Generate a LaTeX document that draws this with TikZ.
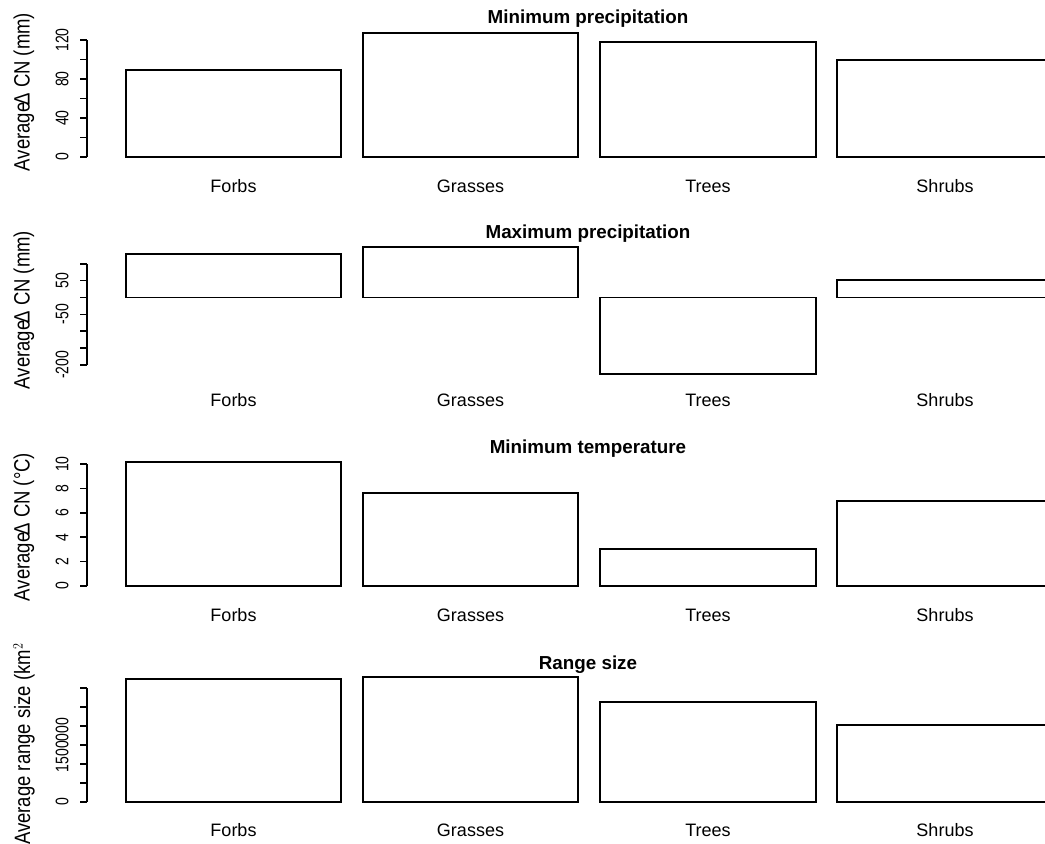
\documentclass[tikz,border=0pt]{standalone}
\usepackage{fontspec}
\setmainfont{Liberation Sans}
\usepackage{tikz}
\newcommand{\tallnum}[1]{\scalebox{1}[1.3]{#1}}
\newcommand{\talltext}[1]{\scalebox{1}[1.2]{#1}}
\tikzstyle{every node}=[inner sep=0pt,outer sep=0pt]
\tikzstyle{bar}=[draw=black,line width=1.6pt,fill=white]
\tikzstyle{axis}=[draw=black,line width=1.5pt]
\tikzstyle{title}=[anchor=base,font=\fontsize{18.8}{22}\selectfont\bfseries]
\tikzstyle{grp}=[anchor=base,font=\fontsize{18}{21}\selectfont]
\tikzstyle{ticklab}=[rotate=90,font=\fontsize{14}{16}\selectfont]
\tikzstyle{ylab}=[rotate=90,font=\fontsize{18.5}{21}\selectfont]

\begin{document}
\begin{tikzpicture}[x=1pt,y=-1pt]
  \useasboundingbox[fill=white] (0,0) rectangle (1045,844);

  \node[title] (title1) at (588,23.5) {Minimum precipitation};
  \draw[bar] (126,157) rectangle (341,70);
  \draw[bar] (363,157) rectangle (578,33);
  \draw[bar] (600,157) rectangle (816,42);
  \draw[bar] (837,157) rectangle (1053,60);
  \draw[axis] (87,157) -- (87,40);
  \foreach \v in {0,20,...,120}
    \draw[axis] (87,{157-\v*0.975}) -- ++(-7,0);
  \node[ticklab] (tick1a) at (62,157) {\tallnum{0}};
  \node[ticklab] (tick1b) at (62,118) {\tallnum{40}};
  \node[ticklab] (tick1c) at (62,79) {\tallnum{80}};
  \node[ticklab] (tick1d) at (62,40) {\tallnum{120}};
  \node[ylab] (ylab1) at (24,92) {\talltext{Average$\!$Δ CN (mm)}};
  \node[grp] (forbs1) at (233.5,192.5) {Forbs};
  \node[grp] (grasses1) at (470.5,192.5) {Grasses};
  \node[grp] (trees1) at (708,192.5) {Trees};
  \node[grp] (shrubs1) at (945,192.5) {Shrubs};

  \node[title] (title2) at (588,238.5) {Maximum precipitation};
  \draw[bar] (126,297.5) rectangle (341,254);
  \draw[bar] (363,297.5) rectangle (578,247);
  \draw[bar] (600,297.5) rectangle (816,374);
  \draw[bar] (837,297.5) rectangle (1053,280);
  \draw[axis] (87,263.8) -- (87,364.8);
  \foreach \v in {100,50,...,-200}
    \draw[axis] (87,{297.5-\v*0.3367}) -- ++(-7,0);
  \node[ticklab] (tick2a) at (62,280.7) {\tallnum{50}};
  \node[ticklab] (tick2b) at (62,314.3) {\tallnum{-50}};
  \node[ticklab] (tick2c) at (62,364.8) {\tallnum{-200}};
  \node[ylab] (ylab2) at (24,310) {\talltext{Average$\!$Δ CN (mm)}};
  \node[grp] (forbs2) at (233.5,406.5) {Forbs};
  \node[grp] (grasses2) at (470.5,406.5) {Grasses};
  \node[grp] (trees2) at (708,406.5) {Trees};
  \node[grp] (shrubs2) at (945,406.5) {Shrubs};

  \node[title] (title3) at (588,453.5) {Minimum temperature};
  \draw[bar] (126,586) rectangle (341,462);
  \draw[bar] (363,586) rectangle (578,493);
  \draw[bar] (600,586) rectangle (816,549);
  \draw[bar] (837,586) rectangle (1053,501);
  \draw[axis] (87,586) -- (87,464);
  \foreach \v in {0,2,...,10}
    \draw[axis] (87,{586-\v*12.2}) -- ++(-7,0);
  \foreach \v in {0,2,...,10}
    \node[ticklab] (tick3-\v) at (62,{586-\v*12.2}) {\tallnum{\v}};
  \node[ylab] (ylab3) at (24,527) {\talltext{Average$\!$Δ CN (°C)}};
  \node[grp] (forbs3) at (233.5,621.5) {Forbs};
  \node[grp] (grasses3) at (470.5,621.5) {Grasses};
  \node[grp] (trees3) at (708,621.5) {Trees};
  \node[grp] (shrubs3) at (945,621.5) {Shrubs};

  \node[title] (title4) at (588,669.5) {Range size};
  \draw[bar] (126,802) rectangle (341,679);
  \draw[bar] (363,802) rectangle (578,677);
  \draw[bar] (600,802) rectangle (816,702);
  \draw[bar] (837,802) rectangle (1053,725);
  \draw[axis] (87,802) -- (87,688);
  \foreach \k in {0,...,6}
    \draw[axis] (87,{802-\k*19}) -- ++(-7,0);
  \node[ticklab] (tick4a) at (62,802) {\tallnum{0}};
  \node[ticklab] (tick4b) at (62,745) {\tallnum{1500000}};
  \begin{scope}
    \clip (0,643) rectangle (60,844);
    \node[ylab] (ylab4) at (24,741) {\talltext{Average range size (km$^2$)}};
  \end{scope}
  \node[grp] (forbs4) at (233.5,836.5) {Forbs};
  \node[grp] (grasses4) at (470.5,836.5) {Grasses};
  \node[grp] (trees4) at (708,836.5) {Trees};
  \node[grp] (shrubs4) at (945,836.5) {Shrubs};
\end{tikzpicture}
\end{document}
